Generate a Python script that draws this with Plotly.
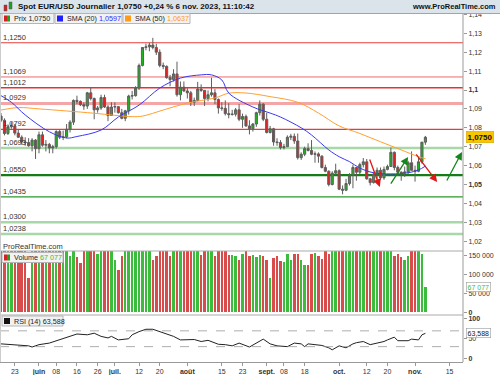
import plotly.graph_objects as go
import pandas as pd

# ---------------- data ----------------
dates = pd.bdate_range("2023-05-17", "2023-11-06")          # trading days shown
axis_dates = pd.bdate_range("2023-05-17", "2023-11-30")     # axis calendar (extends right)

opens = [1.0862,1.0840,1.0770,1.0805,1.0810,1.0772,1.0750,1.0725,1.0722,1.0705,1.0735,
         1.0690,1.0763,1.0708,1.0712,1.0693,1.0700,1.0780,1.0750,1.0752,1.0792,1.0830,1.0945,1.0940,1.0922,1.0915,1.0985,1.0955,1.0895,1.0905,1.0960,1.0910,1.0865,
         1.0910,1.0912,1.0880,1.0850,1.0890,1.0968,1.0970,1.1010,1.1130,1.1225,1.1228,1.1238,1.1225,1.1200,1.1130,1.1125,1.1065,1.1055,1.1085,1.0975,1.1015,
         1.0995,1.0985,1.0935,1.0945,1.1005,1.0998,1.0955,1.0975,1.0985,1.0950,1.0905,1.0903,1.0875,1.0870,1.0872,1.0895,1.0845,1.0860,1.0810,1.0795,1.0820,1.0880,1.0925,
         1.0845,1.0775,1.0795,1.0725,1.0722,1.0695,1.0700,1.0750,1.0755,1.0730,1.0642,1.0660,1.0690,1.0680,1.0660,1.0662,1.0650,1.0590,1.0570,1.0500,1.0560,
         1.0573,1.0475,1.0470,1.0505,1.0550,1.0590,1.0565,1.0605,1.0620,1.0530,1.0510,1.0555,1.0575,1.0535,1.0580,1.0595,1.0670,1.0590,1.0565,1.0561,1.0566,1.0615,
         1.0575,1.0570,1.0620,1.0724]
highs = [1.0878,1.0850,1.0818,1.0830,1.0820,1.0790,1.0760,1.0750,1.0745,1.0745,1.0740,
         1.0780,1.0780,1.0735,1.0720,1.0710,1.0787,1.0790,1.0785,1.0820,1.0840,1.0950,1.0970,1.0945,1.0935,1.0990,1.1012,1.0960,1.0915,1.0975,1.0975,1.0920,1.0935,
         1.0935,1.0915,1.0900,1.0895,1.0975,1.0995,1.1020,1.1140,1.1227,1.1245,1.1250,1.1276,1.1245,1.1215,1.1145,1.1130,1.1080,1.1110,1.1150,1.1045,1.1045,
         1.1010,1.0995,1.0960,1.1043,1.1030,1.1000,1.0998,1.1065,1.1005,1.0955,1.0935,1.0945,1.0930,1.0895,1.0905,1.0925,1.0875,1.0870,1.0840,1.0825,1.0885,1.0945,1.0930,
         1.0880,1.0810,1.0800,1.0745,1.0735,1.0715,1.0760,1.0768,1.0770,1.0770,1.0670,1.0700,1.0718,1.0735,1.0675,1.0670,1.0655,1.0605,1.0575,1.0570,1.0610,
         1.0580,1.0495,1.0530,1.0560,1.0605,1.0590,1.0615,1.0640,1.0635,1.0535,1.0565,1.0590,1.0590,1.0595,1.0605,1.0695,1.0675,1.0600,1.0570,1.0595,1.0625,1.0675,
         1.0600,1.0640,1.0725,1.0757]
lows = [1.0830,1.0760,1.0762,1.0795,1.0760,1.0747,1.0710,1.0705,1.0700,1.0675,1.0635,
        1.0665,1.0700,1.0675,1.0665,1.0665,1.0690,1.0740,1.0735,1.0745,1.0775,1.0815,1.0925,1.0915,1.0895,1.0900,1.0945,1.0845,1.0880,1.0895,1.0905,1.0835,1.0865,
        1.0880,1.0875,1.0845,1.0835,1.0870,1.0950,1.0965,1.1000,1.1125,1.1210,1.1205,1.1215,1.1185,1.1120,1.1110,1.1060,1.1020,1.1045,1.0965,1.0945,1.0990,
        1.0955,1.0915,1.0915,1.0940,1.0990,1.0915,1.0940,1.0965,1.0925,1.0875,1.0890,1.0865,1.0850,1.0865,1.0860,1.0835,1.0800,1.0805,1.0765,1.0780,1.0805,1.0865,1.0835,
        1.0770,1.0770,1.0705,1.0705,1.0685,1.0685,1.0700,1.0735,1.0715,1.0632,1.0630,1.0650,1.0675,1.0655,1.0615,1.0615,1.0585,1.0565,1.0490,1.0495,1.0550,
        1.0470,1.0448,1.0465,1.0495,1.0480,1.0520,1.0555,1.0590,1.0525,1.0495,1.0505,1.0530,1.0525,1.0525,1.0575,1.0595,1.0575,1.0545,1.0520,1.0540,1.0555,1.0575,
        1.0515,1.0565,1.0610,1.0710]
closes = [1.0840,1.0770,1.0805,1.0810,1.0772,1.0750,1.0725,1.0722,1.0705,1.0735,1.0690,
          1.0763,1.0708,1.0712,1.0693,1.0700,1.0780,1.0750,1.0752,1.0792,1.0830,1.0945,1.0940,1.0922,1.0915,1.0985,1.0955,1.0895,1.0905,1.0960,1.0910,1.0865,1.0910,
          1.0912,1.0880,1.0850,1.0890,1.0968,1.0970,1.1010,1.1130,1.1225,1.1228,1.1238,1.1225,1.1200,1.1130,1.1125,1.1065,1.1055,1.1085,1.0975,1.1015,1.0995,
          1.0985,1.0935,1.0945,1.1005,1.0998,1.0955,1.0975,1.0985,1.0950,1.0905,1.0903,1.0875,1.0870,1.0872,1.0895,1.0845,1.0860,1.0810,1.0795,1.0820,1.0880,1.0925,1.0845,
          1.0775,1.0795,1.0725,1.0722,1.0695,1.0700,1.0750,1.0755,1.0730,1.0642,1.0660,1.0690,1.0680,1.0660,1.0662,1.0650,1.0590,1.0570,1.0500,1.0560,1.0573,
          1.0475,1.0470,1.0505,1.0550,1.0590,1.0565,1.0605,1.0620,1.0530,1.0510,1.0555,1.0575,1.0535,1.0580,1.0595,1.0670,1.0590,1.0565,1.0561,1.0566,1.0615,1.0575,
          1.0570,1.0620,1.0724,1.0750]
volumes = [171000,168000,172000,169000,170000,173000,168000,171000,92000,170000,172000,
           169000,171000,168000,170000,173000,169000,171000,170000,168000,150000,172000,147000,130000,170000,171000,169000,172000,155000,170000,168000,171000,169000,
           138000,112000,150000,171000,170000,172000,169000,168000,171000,170000,173000,140000,150000,169000,171000,170000,150000,172000,168000,171000,169000,
           170000,172000,171000,168000,152000,170000,169000,171000,150000,172000,168000,170000,152000,152000,150000,140000,155000,170000,150000,152000,148000,152000,150000,
           140000,92000,145000,150000,137000,135000,155000,138000,155000,155000,138000,127000,127000,155000,158000,150000,143000,170000,155000,165000,162000,
           171000,169000,172000,170000,168000,171000,170000,173000,169000,171000,170000,168000,172000,169000,171000,170000,150000,155000,148000,138000,150000,170000,
           165000,165000,155000,67077]

sma20_idx = [0, 3, 7, 14, 19, 22, 29, 34, 40, 46, 52, 58, 61, 64, 66, 73, 78, 81, 87, 90, 95, 98, 101, 104, 108, 113, 118, 121, 123]
sma20_val = [1.0970, 1.0935, 1.0868, 1.0779, 1.0746, 1.0754, 1.0788, 1.0857, 1.0920, 1.1010, 1.1063, 1.1080, 1.1080,
             1.1053, 1.0984, 1.0910, 1.0878, 1.0857, 1.0800, 1.0762, 1.0683, 1.0647, 1.0621, 1.0587, 1.0562, 1.0556,
             1.0562, 1.0577, 1.0597]
sma50_idx = [0, 5, 11, 19, 27, 33, 38, 41, 47, 54, 62, 66, 71, 78, 86, 92, 98, 104, 110, 116, 121, 123]
sma50_val = [1.0894, 1.0907, 1.0900, 1.0889, 1.0877, 1.0866, 1.0859, 1.0862, 1.0894, 1.0931, 1.0958, 1.0983, 1.0984,
             1.0965, 1.0935, 1.0878, 1.0810, 1.0770, 1.0726, 1.0683, 1.0647, 1.0637]
rsi_idx = [0, 8, 9, 11, 14, 17, 20, 22, 25, 27, 29, 31, 32, 34, 37, 38, 40, 42, 44, 46, 48, 50, 52, 54, 56, 58, 60,
           63, 65, 67, 69, 72, 76, 78, 80, 83, 85, 87, 88, 89, 92, 93, 95, 96, 98, 100, 102, 103, 105, 107, 109, 111,
           112, 114, 115, 118, 119, 121, 122, 123]
rsi_val = [37, 32, 29, 35, 39, 47, 56, 62, 60, 64, 56, 52, 56, 47, 50, 60, 68, 74, 74, 68, 60, 56, 47, 47, 48, 43, 46,
           36, 35, 32, 39, 29, 49, 37, 32, 30, 39, 37, 30, 37, 35, 33, 27, 22, 32, 27, 37, 40, 43, 35, 39, 43,
           47, 54, 45, 45, 49, 47, 60, 63.588]

levels = [1.1250, 1.1069, 1.1012, 1.0929, 1.0792, 1.0693, 1.0550, 1.0435, 1.0300, 1.0238]
level_labels = ["1,1250", "1,1069", "1,1012", "1,0929", "1,0792", "1,0693", "1,0550", "1,0435", "1,0300", "1,0238"]
level_colors = ["#e83c3c", "#ee6a6a", "#e83030", "#f4a6a6", "#e83c3c", "#a8d8a8", "#167d16", "#2a9a2a", "#a8d8a8", "#a8d8a8"]
level_widths = [1, 1, 1.3, 3, 1.2, 2.5, 2.2, 1.2, 2.5, 2.5]

# hand-drawn trend arrows: (from idx, from price, to idx, to price)
arrows_red = [(106.7, 1.0640, 109.8, 1.0487), (120.0, 1.0667, 126.4, 1.0513)]
arrows_green = [(112.7, 1.0497, 118.0, 1.0646), (129.0, 1.0513, 133.6, 1.0672)]

price_ticks = [1.02, 1.03, 1.04, 1.05, 1.06, 1.07, 1.08, 1.09, 1.10, 1.11, 1.12, 1.13, 1.14]
price_tick_text = ["1,02", "1,03", "1,04", "<b>1,05</b>", "1,06", "1,07", "1,08", "1,09", "<b>1,1</b>", "1,11", "1,12", "1,13", "1,14"]
vol_ticks = [0, 50000, 100000, 150000]
vol_tick_text = ["<b>0</b>", "50 000", "100 000", "150 000"]
rsi_ticks = [0, 50, 100]
rsi_tick_text = ["<b>0</b>", "50", "<b>100</b>"]

x_tick_dates = ["2023-05-23", "2023-06-01", "2023-06-08", "2023-06-16", "2023-06-26", "2023-07-03", "2023-07-12",
                "2023-07-20", "2023-08-01", "2023-08-15", "2023-08-23", "2023-09-01", "2023-09-08", "2023-09-18",
                "2023-10-02", "2023-10-12", "2023-10-20", "2023-11-01", "2023-11-15"]
x_tick_text = ["23", "<b>juin</b>", "08", "16", "26", "<b>juil.</b>", "12", "20", "<b>août</b>", "15", "23",
               "<b>sept.</b>", "08", "18", "<b>oct.</b>", "12", "20", "<b>nov.</b>", "15"]

# ---------------- figure ----------------
W, H = 500, 375
ML, MR, MT, MB = 0, 37, 14, 13
PW, PH = W - ML - MR, H - MT - MB


def px(x):   # pixel x -> paper
    return (x - ML) / PW


def py(y):   # pixel y -> paper
    return (H - MB - y) / PH


x = list(range(len(dates)))
tickpos = [axis_dates.get_loc(pd.Timestamp(d)) for d in x_tick_dates]
FONT = "Liberation Sans, Arial, sans-serif"

fig = go.Figure()

fig.add_trace(go.Candlestick(
    x=x, open=opens, high=highs, low=lows, close=closes,
    increasing=dict(fillcolor="#22b022", line=dict(color="#5e5e5e", width=1)),
    decreasing=dict(fillcolor="#e02222", line=dict(color="#5e5e5e", width=1)),
    whiskerwidth=0, xaxis="x", yaxis="y", hoverinfo="skip"))

fig.add_trace(go.Scatter(x=sma50_idx, y=sma50_val, mode="lines", line=dict(color="#ffa030", width=1, shape="spline"),
                         xaxis="x", yaxis="y", hoverinfo="skip"))
fig.add_trace(go.Scatter(x=sma20_idx, y=sma20_val, mode="lines", line=dict(color="#3a3af0", width=1, shape="spline"),
                         xaxis="x", yaxis="y", hoverinfo="skip"))

vol_colors = ["#3cbc3c" if c >= o else "#d84c4c" for o, c in zip(opens, closes)]
fig.add_trace(go.Bar(x=x, y=volumes, marker=dict(color=vol_colors, line=dict(width=0)), width=0.72,
                     xaxis="x", yaxis="y2", hoverinfo="skip"))

fig.add_trace(go.Scatter(x=rsi_idx, y=rsi_val, mode="lines", line=dict(color="#222222", width=1),
                         xaxis="x", yaxis="y3", hoverinfo="skip"))

shapes = []
annotations = []

# support / resistance lines and their labels
for lv, lab, col, wd in zip(levels, level_labels, level_colors, level_widths):
    shapes.append(dict(type="line", xref="paper", yref="y", x0=0, x1=1, y0=lv, y1=lv,
                       line=dict(color=col, width=wd), layer="below"))
    annotations.append(dict(xref="paper", yref="y", x=px(2), y=lv, text=lab, showarrow=False,
                            xanchor="left", yanchor="bottom", yshift=0, borderpad=0,
                            font=dict(family=FONT, size=7.5, color="#333")))

# RSI 30 / 70 dashed
for v in (30, 70):
    shapes.append(dict(type="line", xref="paper", yref="y3", x0=0, x1=1, y0=v, y1=v,
                       line=dict(color="#999", width=0.8, dash="dash")))

# panel separators, frame
for yy in (251, 315):
    shapes.append(dict(type="line", xref="paper", yref="paper", x0=0, x1=1, y0=py(yy), y1=py(yy),
                       line=dict(color="#aaaaaa", width=1)))
shapes.append(dict(type="line", xref="paper", yref="paper", x0=1, x1=1, y0=0, y1=1,
                   line=dict(color="#9a9a9a", width=1)))
shapes.append(dict(type="line", xref="paper", yref="paper", x0=px(0.5), x1=px(0.5), y0=0, y1=1,
                   line=dict(color="#cccccc", width=1)))

# header bar
shapes.append(dict(type="rect", xref="paper", yref="paper", x0=px(0), x1=px(W), y0=py(13.5), y1=py(0),
                   fillcolor="#dbe4eb", line=dict(width=0)))
shapes.append(dict(type="line", xref="paper", yref="paper", x0=px(0), x1=px(W), y0=py(13.5), y1=py(13.5),
                   line=dict(color="#9aa7b0", width=1)))
# header candle icon
shapes.append(dict(type="rect", xref="paper", yref="paper", x0=px(4), x1=px(7), y0=py(11), y1=py(5),
                   fillcolor="#d42020", line=dict(color="#555", width=0.5)))
shapes.append(dict(type="rect", xref="paper", yref="paper", x0=px(9), x1=px(12), y0=py(9), y1=py(2),
                   fillcolor="#22a022", line=dict(color="#555", width=0.5)))

annotations.append(dict(xref="paper", yref="paper", x=px(16), y=py(7), text="<b>Spot EUR/USD Journalier 1,0750 +0,24 % 6 nov. 2023, 11:10:42</b>",
                        showarrow=False, xanchor="left", yanchor="middle", font=dict(family=FONT, size=8, color="#111")))
annotations.append(dict(xref="paper", yref="paper", x=px(498), y=py(7), text="<b>www.ProRealTime.com</b>",
                        showarrow=False, xanchor="right", yanchor="middle", font=dict(family=FONT, size=7.5, color="#111")))


# legend boxes (price panel)
def legend_box(x0, x1, y0, y1):
    shapes.append(dict(type="rect", xref="paper", yref="paper", x0=px(x0), x1=px(x1), y0=py(y1), y1=py(y0),
                       fillcolor="#f2f2f2", line=dict(color="#b5b5b5", width=1)))


LEG = 7.2
legend_box(2, 54, 13.5, 23.5)
legend_box(55, 122, 13.5, 23.5)
legend_box(123, 190, 13.5, 23.5)
shapes.append(dict(type="rect", xref="paper", yref="paper", x0=px(4), x1=px(7), y0=py(21.5), y1=py(15.5),
                   fillcolor="#d42020", line=dict(width=0)))
shapes.append(dict(type="rect", xref="paper", yref="paper", x0=px(7), x1=px(10), y0=py(21.5), y1=py(15.5),
                   fillcolor="#22a022", line=dict(width=0)))
shapes.append(dict(type="rect", xref="paper", yref="paper", x0=px(57), x1=px(63), y0=py(21.5), y1=py(15.5),
                   fillcolor="#1f1fff", line=dict(width=0)))
shapes.append(dict(type="rect", xref="paper", yref="paper", x0=px(125), x1=px(131), y0=py(21.5), y1=py(15.5),
                   fillcolor="#ff9a1a", line=dict(width=0)))
annotations += [
    dict(xref="paper", yref="paper", x=px(12), y=py(18.5), text="Prix 1,0750", showarrow=False,
         xanchor="left", yanchor="middle", font=dict(family=FONT, size=LEG, color="#222")),
    dict(xref="paper", yref="paper", x=px(65), y=py(18.5),
         text="SMA (20) <span style='color:#2a2aff'>1,0597</span>", showarrow=False,
         xanchor="left", yanchor="middle", font=dict(family=FONT, size=LEG, color="#222")),
    dict(xref="paper", yref="paper", x=px(133), y=py(18.5),
         text="SMA (50) <span style='color:#ff9a1a'>1,0637</span>", showarrow=False,
         xanchor="left", yanchor="middle", font=dict(family=FONT, size=LEG, color="#222")),
    dict(xref="paper", yref="paper", x=px(1), y=py(246), text="ProRealTime.com", showarrow=False,
         xanchor="left", yanchor="middle", font=dict(family=FONT, size=7.5, color="#333")),
]

# volume legend
legend_box(2, 63, 252.5, 262.5)
shapes.append(dict(type="rect", xref="paper", yref="paper", x0=px(4), x1=px(7), y0=py(260.5), y1=py(254.5),
                   fillcolor="#d42020", line=dict(width=0)))
shapes.append(dict(type="rect", xref="paper", yref="paper", x0=px(7), x1=px(10), y0=py(260.5), y1=py(254.5),
                   fillcolor="#22a022", line=dict(width=0)))
annotations.append(dict(xref="paper", yref="paper", x=px(12), y=py(257.5),
                        text="Volume <span style='color:#3cbc3c'>67 077</span>", showarrow=False,
                        xanchor="left", yanchor="middle", font=dict(family=FONT, size=LEG, color="#222")))
# RSI legend
legend_box(2, 63, 316, 326)
shapes.append(dict(type="rect", xref="paper", yref="paper", x0=px(4), x1=px(10), y0=py(324), y1=py(318),
                   fillcolor="#111111", line=dict(width=0)))
annotations.append(dict(xref="paper", yref="paper", x=px(12), y=py(321),
                        text="RSI (14) 63,588", showarrow=False,
                        xanchor="left", yanchor="middle", font=dict(family=FONT, size=LEG, color="#222")))

# last-value boxes on right axis
annotations.append(dict(xref="paper", yref="y", x=px(466), y=closes[-1], text="<b>1,0750</b>", showarrow=False,
                        xanchor="left", yanchor="middle", bgcolor="#f7c600", bordercolor="#d0a000", borderwidth=0.5,
                        borderpad=1, font=dict(family=FONT, size=8, color="#111")))
annotations.append(dict(xref="paper", yref="y2", x=px(466), y=volumes[-1], text="67 077", showarrow=False,
                        xanchor="left", yanchor="middle", bgcolor="#ffffff", bordercolor="#999", borderwidth=0.6,
                        borderpad=1, font=dict(family=FONT, size=7, color="#3cbc3c")))
annotations.append(dict(xref="paper", yref="y3", x=px(466), y=rsi_val[-1], text="63,588", showarrow=False,
                        xanchor="left", yanchor="middle", bgcolor="#ffffff", bordercolor="#999", borderwidth=0.6,
                        borderpad=1, font=dict(family=FONT, size=7, color="#222")))

# trend arrows
for (x0, y0, x1, y1), col in [(a, "#e01515") for a in arrows_red] + [(a, "#14861a") for a in arrows_green]:
    annotations.append(dict(xref="x", yref="y", axref="x", ayref="y", x=x1, y=y1, ax=x0, ay=y0,
                            showarrow=True, arrowhead=2, arrowsize=1.2, arrowwidth=1.3, arrowcolor=col, text=""))

tickfont = dict(family=FONT, size=7, color="#333")
fig.update_layout(
    width=W, height=H, margin=dict(l=ML, r=MR, t=MT, b=MB),
    paper_bgcolor="white", plot_bgcolor="white", showlegend=False, separators=", ",
    bargap=0, boxgap=0.12, hovermode=False,
    xaxis=dict(range=[-0.3, 133.9], anchor="y3", tickvals=tickpos, ticktext=x_tick_text,
               showgrid=False, zeroline=False, showline=True, linecolor="#999", linewidth=1,
               ticks="outside", ticklen=3, tickcolor="#999", tickfont=tickfont,
               rangeslider=dict(visible=False), fixedrange=True),
    yaxis=dict(domain=[py(249), 1], range=[1.01587, 1.14021], side="right", anchor="x",
               tickvals=price_ticks, ticktext=price_tick_text, showgrid=False, zeroline=False,
               ticks="outside", ticklen=3, tickcolor="#999", tickfont=tickfont),
    yaxis2=dict(domain=[py(314), py(251)], range=[-4000, 163000], side="right", anchor="x",
                tickvals=vol_ticks, ticktext=vol_tick_text, showgrid=False, zeroline=False,
                ticks="outside", ticklen=3, tickcolor="#999", tickfont=tickfont),
    yaxis3=dict(domain=[0, py(315)], range=[-8.9, 110.1], side="right", anchor="x",
                tickvals=rsi_ticks, ticktext=rsi_tick_text, showgrid=False, zeroline=False,
                ticks="outside", ticklen=3, tickcolor="#999", tickfont=tickfont),
    shapes=shapes, annotations=annotations,
)

fig.write_html("out.html", config={"displayModeBar": False, "staticPlot": True},
               post_script="document.body.style.margin='0px';document.body.style.padding='0px';")
